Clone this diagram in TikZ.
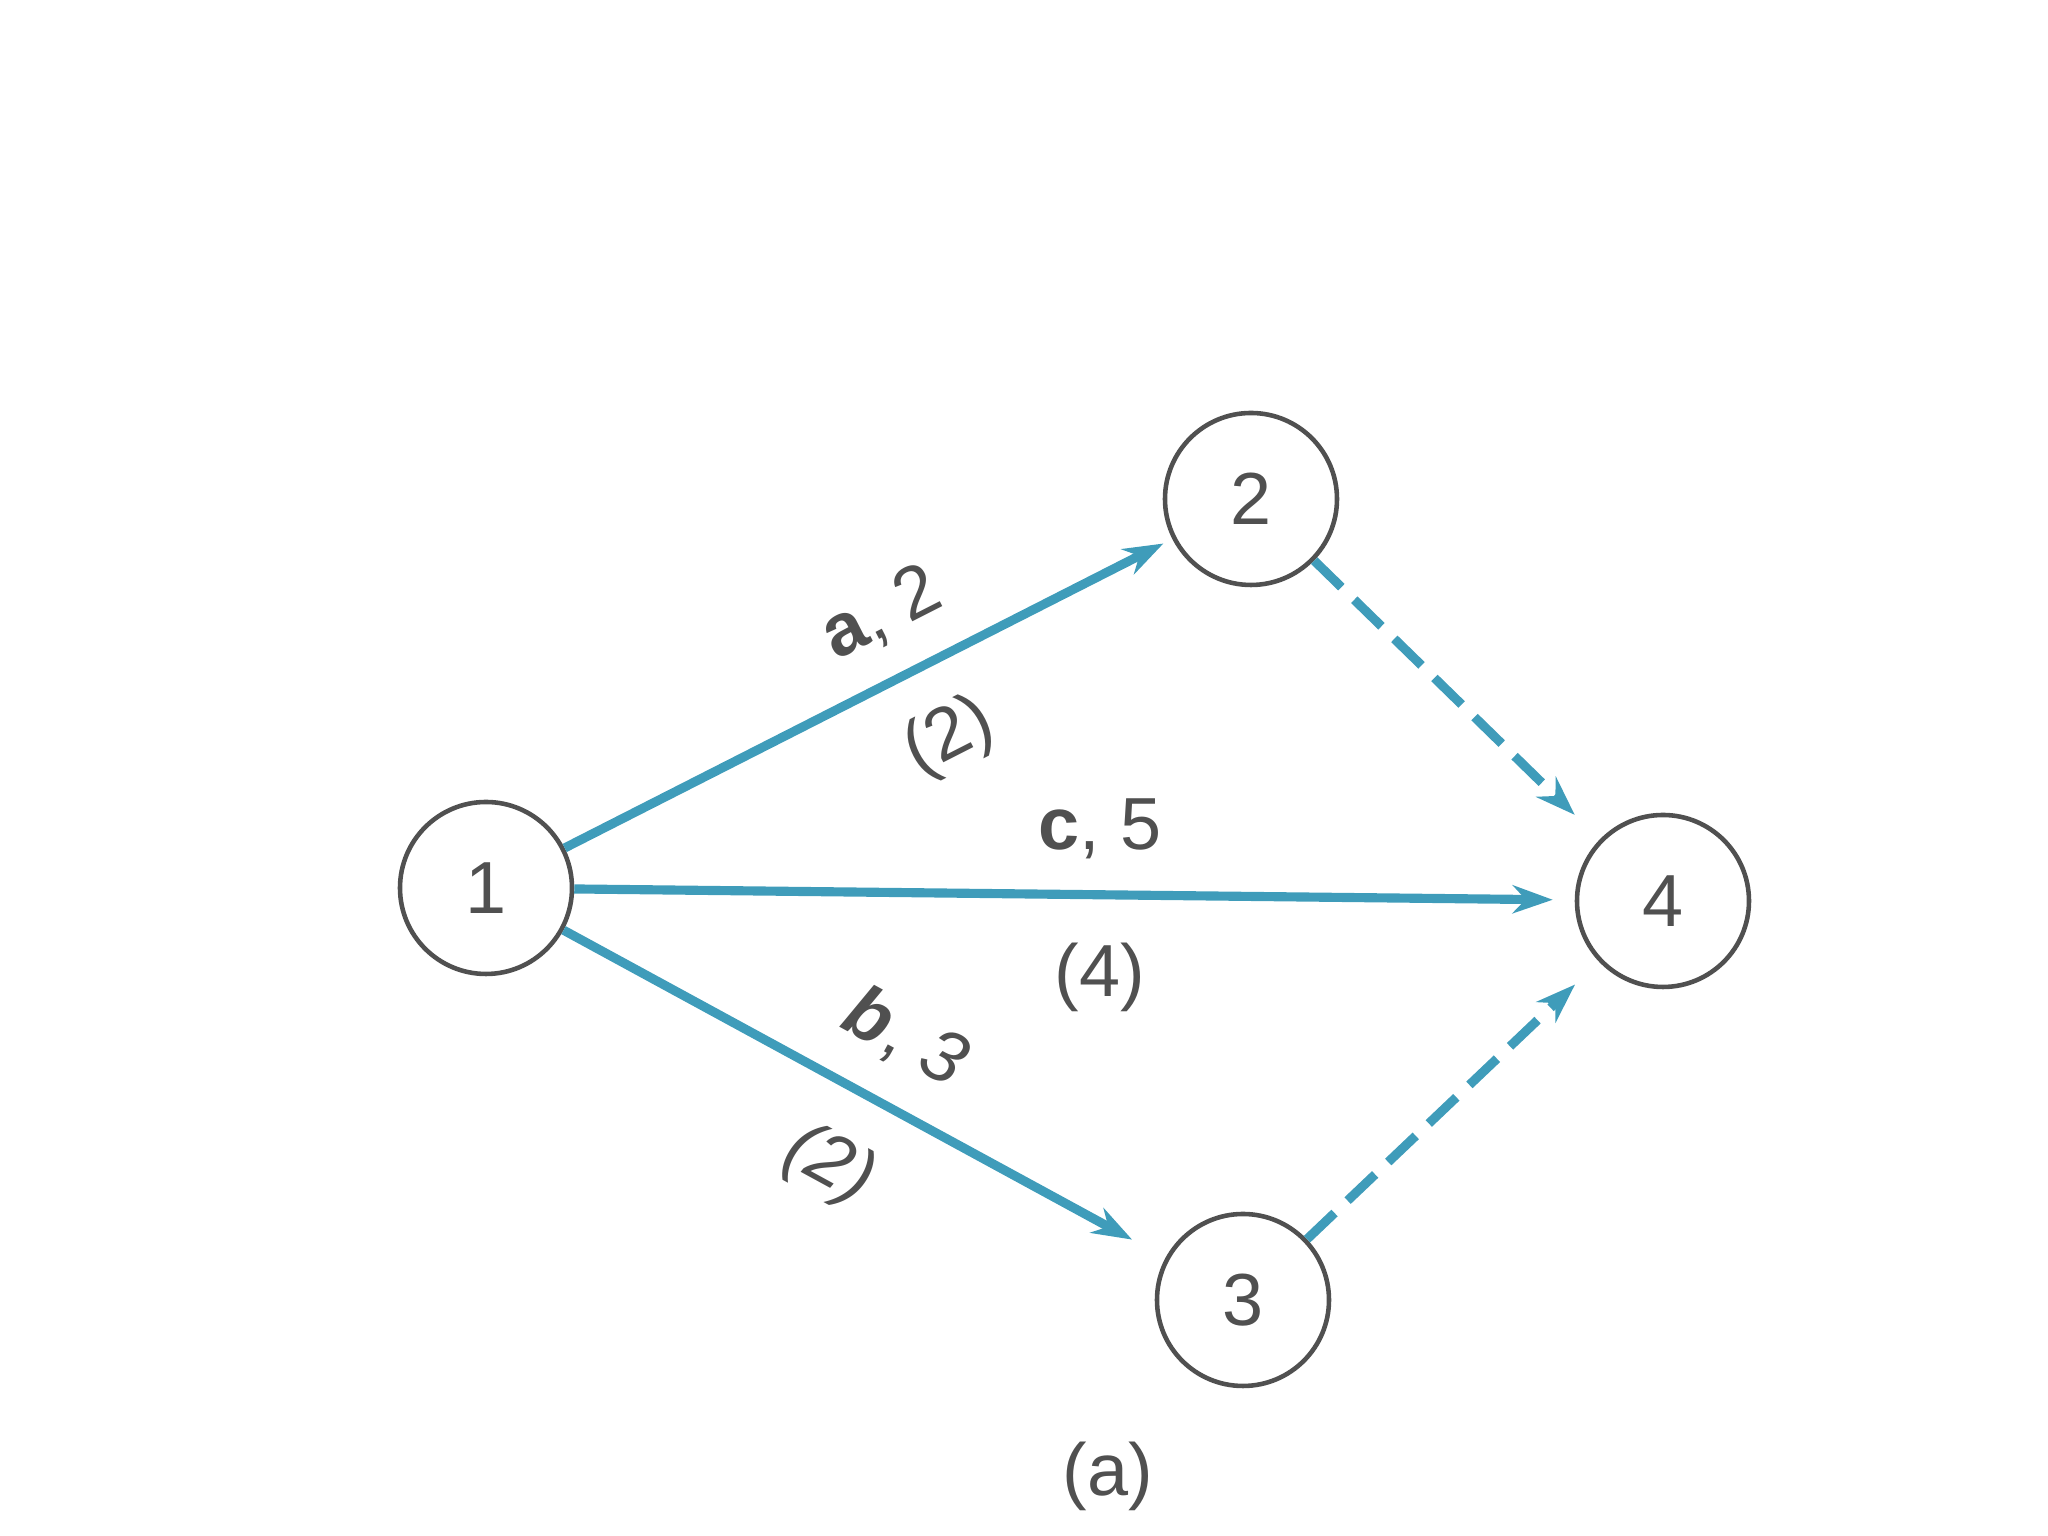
\documentclass[tikz,border=0pt]{standalone}
\usepackage{fontspec}
\setmainfont{Liberation Sans}
\usetikzlibrary{arrows.meta}
\definecolor{edgeblue}{HTML}{3F9CBA}
\definecolor{inkgray}{HTML}{505050}
\tikzset{
  evnode/.style={circle, draw=inkgray, line width=1.3pt, minimum size=1.72cm, inner sep=0pt, text=inkgray, font=\fontsize{21}{24}\selectfont},
  act/.style={draw=edgeblue, line width=2.6pt, -{Stealth[length=0.4cm, width=0.28cm, inset=0.13cm]}},
  dummy/.style={act, dash pattern=on 0.38cm off 0.18cm},
  lab/.style={text=inkgray, font=\fontsize{21}{24}\selectfont, inner sep=0pt}
}
\begin{document}
\begin{tikzpicture}
\useasboundingbox (0,0) rectangle (20.48,15.36);
\node[evnode] (n1) at (4.86,6.48) {1};
\node[evnode] (n2) at (12.51,10.37) {2};
\node[evnode] (n3) at (12.43,2.36) {3};
\node[evnode] (n4) at (16.63,6.35) {4};

\draw[act, shorten >=0.1cm] (n1) -- (n2);
\draw[act, shorten >=0.22cm] (n1) -- (n4);
\draw[act, shorten >=0.38cm] (n1) -- (n3);
\draw[dummy, shorten >=0.35cm] (n2) -- (n4);
\draw[dummy, shorten >=0.33cm] (n3) -- (n4);

\node[lab, rotate=27] (la) at (8.82,9.22) {\textbf{a}, 2};
\node[lab, rotate=27] (la2) at (9.50,7.98) {(2)};
\node[lab] (lc) at (11.0,7.07) {\textbf{c}, 5};
\node[lab] (lc2) at (11.0,5.59) {(4)};
\node[lab, rotate=-28.6] (lb) at (9.05,4.98) {\textbf{\textit{b}}, \textit{3}};
\node[lab, rotate=-28.6] (lb2) at (8.29,3.70) {\textit{(2)}};
\node[lab] (cap) at (11.08,0.60) {(a)};
\end{tikzpicture}
\end{document}
